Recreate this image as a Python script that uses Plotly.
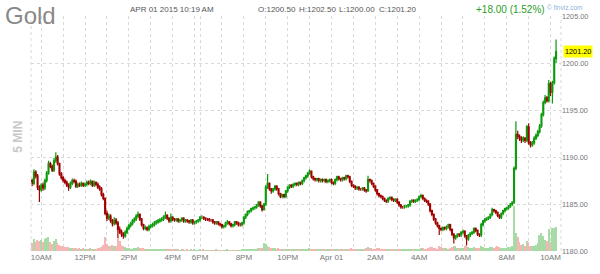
import plotly.graph_objects as go

# ---- data: 5-minute gold bars, Mar 31 09:35 -> Apr 01 10:15 (break 17:15-17:55 skipped)
bar_index = list(range(288))

opens = [
 1187.5,1187.2,1188.4,1188.0,1186.8,1186.5,1187.0,1186.7,1187.5,1188.3,1189.3,1189.0,
 1188.6,1189.6,1190.0,1189.3,1188.2,1187.8,1187.5,1187.3,1187.0,1186.8,1187.2,1187.5,
 1187.4,1186.9,1187.1,1187.0,1187.2,1187.0,1187.1,1187.3,1187.2,1187.4,1187.0,1187.3,
 1187.1,1186.8,1186.6,1186.0,1185.6,1184.0,1183.5,1183.7,1183.2,1182.9,1183.3,1183.0,
 1182.3,1182.0,1181.8,1181.6,1182.0,1182.4,1182.7,1182.9,1183.2,1183.4,1183.7,1183.9,
 1183.4,1182.8,1182.4,1182.5,1182.3,1182.6,1182.7,1182.8,1183.0,1183.1,1183.2,1183.3,
 1183.4,1183.6,1183.8,1183.5,1183.2,1183.6,1183.4,1183.3,1183.4,1183.2,1183.3,1183.5,
 1183.2,1183.3,1183.2,1183.1,1183.3,1183.0,1183.1,1183.2,1183.3,1183.6,1183.6,1183.5,
 1183.4,1183.4,1183.3,1183.3,1183.1,1183.0,1183.1,1182.9,1182.8,1182.6,1182.7,1183.0,
 1183.1,1182.9,1182.7,1182.8,1183.1,1183.0,1182.8,1182.8,1183.0,1183.6,1183.9,1184.2,
 1184.3,1184.5,1184.6,1184.7,1184.9,1185.2,1184.8,1184.4,1185.0,1186.8,1187.2,1186.6,
 1186.4,1186.6,1186.9,1186.6,1186.1,1185.8,1186.0,1185.8,1186.4,1186.8,1187.0,1186.9,
 1187.1,1187.2,1187.1,1187.3,1187.2,1187.5,1187.8,1188.0,1188.3,1188.5,1187.9,1187.7,
 1187.6,1187.7,1187.5,1187.6,1187.5,1187.6,1187.4,1187.5,1187.6,1187.3,1187.2,1187.6,
 1187.9,1187.7,1187.6,1187.8,1187.7,1188.0,1187.9,1187.4,1187.0,1186.9,1186.7,1186.8,
 1186.6,1186.6,1186.7,1186.5,1186.4,1187.6,1187.5,1187.2,1186.9,1186.5,1186.1,1185.9,
 1185.8,1185.6,1185.4,1185.3,1185.6,1185.7,1185.5,1185.4,1185.5,1185.2,1184.9,1184.7,
 1184.7,1184.8,1184.8,1184.9,1185.3,1185.4,1185.3,1185.4,1185.5,1185.8,1185.9,1185.6,
 1185.4,1185.3,1185.0,1184.3,1183.9,1183.4,1183.0,1182.7,1182.4,1182.3,1182.5,1182.4,
 1182.6,1182.8,1182.3,1181.8,1181.4,1181.6,1181.8,1181.7,1182.0,1182.1,1181.6,1181.3,
 1181.7,1181.9,1182.0,1182.4,1182.2,1181.8,1181.7,1182.8,1183.2,1183.4,1183.5,1183.6,
 1183.9,1184.4,1184.3,1184.1,1183.8,1183.6,1184.0,1184.3,1184.5,1184.6,1184.8,1185.0,
 1185.2,1188.8,1192.4,1192.2,1192.0,1191.8,1192.0,1191.8,1193.2,1191.5,1191.3,1191.5,
 1192.0,1192.3,1192.7,1193.3,1194.5,1195.8,1196.3,1196.0,1197.8,1196.9,1197.9,1200.5]

highs = [
 1187.7,1188.7,1188.6,1188.2,1187.0,1187.2,1187.3,1187.7,1188.5,1189.6,1189.5,1189.2,
 1189.9,1190.5,1190.2,1189.4,1188.4,1188.0,1187.7,1187.5,1187.2,1187.4,1187.7,1187.7,
 1187.6,1187.3,1187.3,1187.4,1187.3,1187.3,1187.5,1187.5,1187.6,1187.5,1187.5,1187.4,
 1187.3,1187.0,1186.8,1186.2,1185.7,1184.3,1184.0,1183.9,1183.4,1183.6,1183.5,1183.2,
 1182.6,1182.3,1182.0,1182.2,1182.6,1182.9,1183.1,1183.4,1183.6,1183.9,1184.2,1184.0,
 1183.5,1182.9,1182.7,1182.6,1182.8,1182.9,1183.0,1183.2,1183.3,1183.4,1183.5,1183.6,
 1183.8,1184.2,1183.9,1183.6,1184.0,1183.7,1183.5,1183.5,1183.5,1183.4,1183.6,1183.6,
 1183.4,1183.4,1183.3,1183.4,1183.4,1183.2,1183.3,1183.4,1183.7,1183.8,1183.7,1183.6,
 1183.5,1183.5,1183.4,1183.4,1183.2,1183.2,1183.2,1183.0,1182.9,1182.8,1183.1,1183.3,
 1183.2,1183.0,1182.9,1183.2,1183.2,1183.1,1183.0,1183.1,1183.7,1184.0,1184.3,1184.4,
 1184.6,1184.7,1184.8,1185.0,1185.3,1185.3,1184.9,1185.1,1187.0,1188.2,1187.3,1186.7,
 1186.7,1187.0,1187.0,1186.7,1186.2,1186.1,1186.1,1186.5,1186.9,1187.1,1187.1,1187.2,
 1187.3,1187.3,1187.4,1187.4,1187.6,1187.9,1188.1,1188.4,1188.7,1188.5,1188.0,1187.8,
 1187.8,1187.8,1187.7,1187.7,1187.7,1187.7,1187.6,1187.7,1187.7,1187.4,1187.7,1188.0,
 1188.0,1187.8,1187.9,1187.9,1188.1,1188.1,1188.0,1187.5,1187.1,1187.0,1186.9,1186.9,
 1186.7,1186.8,1186.8,1186.6,1188.0,1187.7,1187.6,1187.3,1187.0,1186.6,1186.2,1186.0,
 1185.9,1185.7,1185.5,1185.7,1185.8,1185.8,1185.6,1185.6,1185.6,1185.3,1185.0,1184.8,
 1184.9,1184.9,1185.0,1185.4,1185.5,1185.5,1185.5,1185.6,1185.9,1186.1,1186.0,1185.7,
 1185.5,1185.4,1185.1,1184.4,1184.0,1183.5,1183.1,1182.8,1182.5,1182.6,1182.6,1182.7,
 1182.9,1182.9,1182.4,1181.9,1181.7,1181.9,1181.9,1182.1,1182.3,1182.2,1181.7,1181.8,
 1182.0,1182.1,1182.5,1182.5,1182.3,1181.9,1183.0,1183.3,1183.5,1183.6,1183.7,1184.0,
 1184.6,1184.5,1184.4,1184.2,1183.9,1184.1,1184.4,1184.6,1184.7,1184.9,1185.1,1185.3,
 1189.0,1193.8,1192.8,1192.4,1192.2,1192.2,1192.1,1193.4,1193.6,1191.7,1191.7,1192.2,
 1192.5,1192.9,1193.5,1194.7,1196.0,1196.6,1196.5,1198.2,1198.0,1198.1,1200.7,1202.5]

lows = [
 1186.9,1187.0,1187.7,1186.5,1185.2,1186.3,1186.4,1186.5,1187.3,1188.1,1188.8,1188.4,
 1188.4,1189.4,1189.1,1188.0,1187.6,1187.3,1187.1,1186.8,1186.4,1186.6,1187.0,1187.2,
 1186.7,1186.7,1186.8,1186.8,1186.8,1186.8,1186.9,1187.0,1187.0,1186.8,1186.8,1186.9,
 1186.6,1186.4,1185.8,1185.4,1183.8,1183.2,1183.3,1183.0,1182.6,1182.7,1182.8,1181.4,
 1181.8,1181.5,1181.3,1181.4,1181.8,1182.2,1182.5,1182.7,1183.0,1183.2,1183.5,1183.2,
 1182.6,1182.2,1182.2,1182.1,1182.1,1182.4,1182.5,1182.6,1182.8,1182.9,1183.0,1183.1,
 1183.2,1183.4,1183.3,1183.0,1183.0,1183.2,1183.1,1183.1,1183.0,1183.0,1183.1,1183.0,
 1183.0,1183.0,1182.9,1182.9,1182.8,1182.8,1182.9,1183.0,1183.1,1183.4,1183.3,1183.2,
 1183.2,1183.1,1183.1,1182.9,1182.8,1182.8,1182.7,1182.6,1182.4,1182.4,1182.5,1182.8,
 1182.7,1182.5,1182.5,1182.6,1182.8,1182.6,1182.6,1182.6,1182.8,1183.4,1183.7,1184.0,
 1184.1,1184.3,1184.4,1184.5,1184.7,1184.6,1184.2,1184.3,1184.8,1186.6,1186.4,1186.1,
 1186.2,1186.4,1186.4,1185.9,1185.6,1185.6,1185.6,1185.6,1186.2,1186.6,1186.7,1186.7,
 1186.9,1186.9,1186.9,1187.0,1187.0,1187.3,1187.6,1187.8,1188.1,1187.7,1187.5,1187.4,
 1187.4,1187.3,1187.3,1187.3,1187.3,1187.2,1187.2,1187.3,1187.1,1187.0,1187.0,1187.4,
 1187.5,1187.4,1187.4,1187.5,1187.5,1187.7,1187.2,1186.8,1186.7,1186.5,1186.5,1186.4,
 1186.4,1186.4,1186.3,1186.2,1186.3,1187.3,1187.0,1186.7,1186.3,1185.9,1185.7,1185.6,
 1185.4,1185.2,1185.1,1185.1,1185.4,1185.3,1185.2,1185.2,1185.0,1184.7,1184.5,1184.5,
 1184.5,1184.6,1184.6,1184.7,1185.1,1185.1,1185.1,1185.2,1185.3,1185.6,1185.4,1185.2,
 1185.1,1184.8,1184.1,1183.7,1183.2,1182.8,1182.5,1181.7,1182.1,1182.1,1182.2,1182.2,
 1182.4,1182.1,1181.6,1180.8,1181.2,1181.4,1181.5,1181.5,1181.8,1181.4,1180.6,1181.1,
 1181.5,1181.7,1181.8,1182.0,1181.6,1181.5,1181.5,1182.6,1183.0,1183.2,1183.3,1183.4,
 1183.7,1184.1,1183.9,1183.6,1183.4,1183.4,1183.8,1184.1,1184.3,1184.4,1184.6,1184.8,
 1185.0,1188.6,1191.9,1191.7,1191.5,1191.6,1191.5,1191.6,1191.3,1191.0,1191.1,1191.3,
 1191.8,1192.1,1192.5,1193.1,1194.3,1195.6,1195.8,1195.8,1196.5,1195.7,1197.7,1200.0]

closes = [
 1187.2,1188.4,1188.0,1186.8,1186.5,1187.0,1186.7,1187.5,1188.3,1189.3,1189.0,1188.6,
 1189.6,1190.0,1189.3,1188.2,1187.8,1187.5,1187.3,1187.0,1186.8,1187.2,1187.5,1187.4,
 1186.9,1187.1,1187.0,1187.2,1187.0,1187.1,1187.3,1187.2,1187.4,1187.0,1187.3,1187.1,
 1186.8,1186.6,1186.0,1185.6,1184.0,1183.5,1183.7,1183.2,1182.9,1183.3,1183.0,1182.3,
 1182.0,1181.8,1181.6,1182.0,1182.4,1182.7,1182.9,1183.2,1183.4,1183.7,1183.9,1183.4,
 1182.8,1182.4,1182.5,1182.3,1182.6,1182.7,1182.8,1183.0,1183.1,1183.2,1183.3,1183.4,
 1183.6,1183.8,1183.5,1183.2,1183.6,1183.4,1183.3,1183.4,1183.2,1183.3,1183.5,1183.2,
 1183.3,1183.2,1183.1,1183.3,1183.0,1183.1,1183.2,1183.3,1183.6,1183.6,1183.5,1183.4,
 1183.4,1183.3,1183.3,1183.1,1183.0,1183.1,1182.9,1182.8,1182.6,1182.7,1183.0,1183.1,
 1182.9,1182.7,1182.8,1183.1,1183.0,1182.8,1182.8,1183.0,1183.6,1183.9,1184.2,1184.3,
 1184.5,1184.6,1184.7,1184.9,1185.2,1184.8,1184.4,1185.0,1186.8,1187.2,1186.6,1186.4,
 1186.6,1186.9,1186.6,1186.1,1185.8,1186.0,1185.8,1186.4,1186.8,1187.0,1186.9,1187.1,
 1187.2,1187.1,1187.3,1187.2,1187.5,1187.8,1188.0,1188.3,1188.5,1187.9,1187.7,1187.6,
 1187.7,1187.5,1187.6,1187.5,1187.6,1187.4,1187.5,1187.6,1187.3,1187.2,1187.6,1187.9,
 1187.7,1187.6,1187.8,1187.7,1188.0,1187.9,1187.4,1187.0,1186.9,1186.7,1186.8,1186.6,
 1186.6,1186.7,1186.5,1186.4,1187.6,1187.5,1187.2,1186.9,1186.5,1186.1,1185.9,1185.8,
 1185.6,1185.4,1185.3,1185.6,1185.7,1185.5,1185.4,1185.5,1185.2,1184.9,1184.7,1184.7,
 1184.8,1184.8,1184.9,1185.3,1185.4,1185.3,1185.4,1185.5,1185.8,1185.9,1185.6,1185.4,
 1185.3,1185.0,1184.3,1183.9,1183.4,1183.0,1182.7,1182.4,1182.3,1182.5,1182.4,1182.6,
 1182.8,1182.3,1181.8,1181.4,1181.6,1181.8,1181.7,1182.0,1182.1,1181.6,1181.3,1181.7,
 1181.9,1182.0,1182.4,1182.2,1181.8,1181.7,1182.8,1183.2,1183.4,1183.5,1183.6,1183.9,
 1184.4,1184.3,1184.1,1183.8,1183.6,1184.0,1184.3,1184.5,1184.6,1184.8,1185.0,1185.2,
 1188.8,1192.4,1192.2,1192.0,1191.8,1192.0,1191.8,1193.2,1191.5,1191.3,1191.5,1192.0,
 1192.3,1192.7,1193.3,1194.5,1195.8,1196.3,1196.0,1197.8,1196.9,1197.9,1200.5,1201.2]

volumes = [
 900,1300,1000,1200,1100,1200,1000,1300,1400,1500,1000,800,
 1100,1300,900,700,600,500,450,400,450,350,300,300,
 350,250,300,250,300,250,200,250,300,250,200,250,
 300,350,400,700,1500,800,600,500,700,500,600,1600,
 1100,700,500,400,300,350,250,250,300,350,400,300,
 350,300,250,200,250,200,150,200,150,200,250,150,
 200,250,200,150,250,150,200,150,150,100,150,150,
 100,150,100,150,100,150,100,100,150,100,120,80,
 100,80,90,100,80,120,100,90,110,80,100,120,
 100,90,80,110,100,90,80,120,200,250,200,220,
 250,200,240,260,300,280,300,900,800,600,450,350,
 300,280,260,300,250,220,200,250,220,200,180,200,
 160,150,180,160,200,220,250,260,300,250,200,180,
 150,140,160,130,150,140,160,200,180,150,200,220,
 180,160,150,170,200,180,250,300,250,220,200,240,
 220,200,250,300,450,350,300,260,250,300,280,250,
 260,240,220,200,240,200,180,200,220,260,240,200,
 180,200,160,220,200,180,200,220,250,300,280,250,
 260,300,450,400,350,300,250,500,400,300,350,300,
 250,350,450,600,500,350,300,300,350,500,700,400,
 350,300,400,350,300,300,500,400,350,300,350,400,
 450,350,400,500,400,350,300,300,350,400,450,500,
 5000,2000,1500,1000,700,800,600,1100,1000,600,500,600,
 700,900,1800,2000,1700,1200,1100,2400,1000,2500,2600,2700]

hour_positions = [5,17,29,41,53,65,77,89,92,104,116,128,140,152,164,176,188,200,212,224,236,248,260,272,284]
hour_labels = ['10AM','','12PM','','2PM','','4PM','','6PM','','8PM','','10PM','','Apr 01','','2AM','','4AM','','6AM','','8AM','','10AM']
price_ticks = [1180, 1185, 1190, 1195, 1200, 1205]
last_price = 1201.20

# ---- figure
FONT = "Liberation Sans, Arial, sans-serif"
L, R, T, B = 31, 28, 15, 17
W, H = 600 - L - R, 274 - T - B

def px(x):
    return (x - L) / W

def py(y):
    return (274 - B - y) / H

vol_colors = ['#a6dba6' if c >= o else '#f6b6b6' for o, c in zip(opens, closes)]

fig = go.Figure()
fig.add_trace(go.Bar(x=bar_index, y=volumes, marker=dict(color=vol_colors, line=dict(width=0)),
                     width=0.8, yaxis='y', hoverinfo='skip', showlegend=False))
fig.add_trace(go.Candlestick(x=bar_index, open=opens, high=highs, low=lows, close=closes,
                             yaxis='y2', showlegend=False, whiskerwidth=0,
                             increasing=dict(line=dict(color='#0a9a0a', width=1.2), fillcolor='#0a9a0a'),
                             decreasing=dict(line=dict(color='#a00000', width=1.2), fillcolor='#a00000')))

grid = dict(showgrid=True, gridcolor='#d9d9d9', griddash='3px,3px', gridwidth=1)

fig.update_layout(
    width=600, height=274,
    margin=dict(l=L, r=R, t=T, b=B),
    paper_bgcolor='white', plot_bgcolor='white',
    bargap=0,
    xaxis=dict(range=[-0.6, 289.7], tickvals=hour_positions, ticktext=hour_labels,
               ticks='', showline=False, zeroline=False, rangeslider=dict(visible=False),
               tickfont=dict(family=FONT, size=8, color='#777777'), **grid),
    yaxis=dict(range=[0, 26000], visible=False, showgrid=False, fixedrange=True),
    yaxis2=dict(range=[1180, 1205], overlaying='y', side='right', tickvals=price_ticks,
                ticktext=[f'{v:.2f}' for v in price_ticks], ticks='', showline=False,
                zeroline=False, tickfont=dict(family=FONT, size=7.3, color='#777777'), **grid),
)

shapes = [
    dict(type='line', xref='paper', yref='paper', x0=0, x1=0, y0=0, y1=1,
         line=dict(color='#d9d9d9', width=1, dash='3px,3px')),
    dict(type='line', xref='paper', yref='paper', x0=1, x1=1, y0=0, y1=1,
         line=dict(color='#d9d9d9', width=1, dash='3px,3px')),
]
fig.update_layout(shapes=shapes)

ann = []
def text(t, x, y, size, color, anchor='center', bold=False, angle=0):
    ann.append(dict(text=f'<b>{t}</b>' if bold else t, x=px(x), y=py(y), xref='paper', yref='paper',
                    xanchor=anchor, yanchor='middle', showarrow=False, textangle=angle,
                    font=dict(family=FONT, size=size, color=color)))

text('Gold', 2, 14, 24, '#888888', anchor='left')
text('APR 01 2015 10:19 AM', 175, 8, 8, '#555555')
text('O:1200.50', 282, 8, 8, '#555555')
text('H:1202.50', 323, 8, 8, '#555555')
text('L:1200.00', 364, 8, 8, '#555555')
text('C:1201.20', 405, 8, 8, '#555555')
text('+18.00 (1.52%)', 520, 8, 10, '#2a9d2a')
text('© finviz.com', 576, 6, 6.5, '#8fb4dc')
text('5 MIN', 18, 139, 12, '#c8c8c8', bold=True, angle=-90)

ann.append(dict(text=f'{last_price:.2f}', x=1, y=last_price, xref='paper', yref='y2',
                xanchor='left', yanchor='middle', xshift=2, showarrow=False,
                bgcolor='#ffff00', borderpad=1,
                font=dict(family=FONT, size=7.3, color='#000000')))
fig.update_layout(annotations=ann)

fig.write_html('out.html')
